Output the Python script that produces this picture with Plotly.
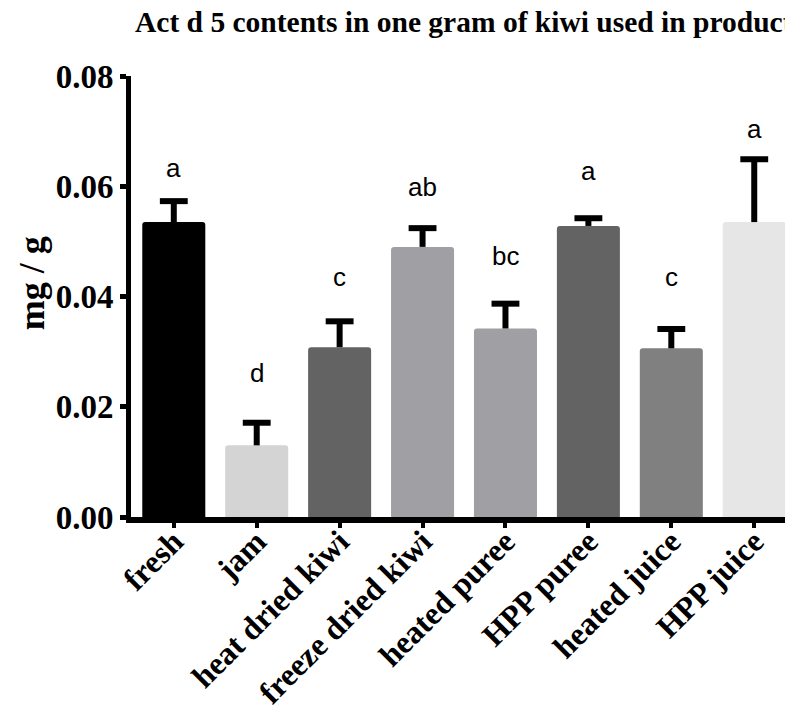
import plotly.graph_objects as go

# Act d 5 content per gram of kiwi, by product type
products = ["fresh", "jam", "heat dried kiwi", "freeze dried kiwi",
            "heated puree", "HPP puree", "heated juice", "HPP juice"]
mean_mg_per_g = [0.0535, 0.0130, 0.0308, 0.0490, 0.0342, 0.0528, 0.0306, 0.0535]
sd_mg_per_g = [0.0038, 0.0041, 0.0047, 0.0034, 0.0045, 0.0014, 0.0035, 0.0114]
group_letters = ["a", "d", "c", "ab", "bc", "a", "c", "a"]
letter_heights = [0.0634, 0.0261, 0.0436, 0.0598, 0.0474, 0.0627, 0.0436, 0.0703]
y_ticks = [0.00, 0.02, 0.04, 0.06, 0.08]

bar_colors = ["#000000", "#d4d4d4", "#636363", "#a0a0a4",
              "#a0a0a4", "#636363", "#808080", "#e6e6e6"]

serif = "Liberation Serif, Times New Roman, serif"
sans = "Liberation Sans, Arial, sans-serif"

positions = list(range(len(products)))
cap_half = 0.168  # half-width of the error-bar cap, in category units

fig = go.Figure()
fig.add_trace(go.Bar(
    x=positions,
    y=mean_mg_per_g,
    width=0.76,
    marker=dict(color=bar_colors, line=dict(width=0), cornerradius=3),
    showlegend=False,
    hoverinfo="skip",
))

# upper-only "T" error bars (mean -> mean + SD, capped)
ex, ey = [], []
for p, m, s in zip(positions, mean_mg_per_g, sd_mg_per_g):
    top = m + s
    ex += [p, p, None, p - cap_half, p + cap_half, None]
    ey += [m, top, None, top, top, None]
fig.add_trace(go.Scatter(
    x=ex, y=ey, mode="lines",
    line=dict(color="#000000", width=6),
    showlegend=False, hoverinfo="skip", connectgaps=False,
))

for p, letter, h in zip(positions, group_letters, letter_heights):
    fig.add_annotation(x=p, y=h, text=letter, showarrow=False,
                       xanchor="center", yanchor="middle",
                       font=dict(family=sans, size=26, color="#000000"))

fig.add_annotation(xref="paper", yref="paper", x=0.003, y=1.122,
                   text="Act d 5 contents in one gram of kiwi used in products",
                   showarrow=False, xanchor="left", yanchor="middle",
                   font=dict(family=serif, size=29.5, color="#000000", weight="bold"))

fig.add_annotation(xref="paper", yref="paper", x=-0.152, y=0.529,
                   text="mg / g", textangle=-90, showarrow=False,
                   xanchor="center", yanchor="middle",
                   font=dict(family=serif, size=36, color="#000000", weight="bold"))

fig.update_layout(
    width=785, height=720,
    margin=dict(l=131, r=0, t=76, b=202.5, autoexpand=False),
    paper_bgcolor="#ffffff", plot_bgcolor="#ffffff",
)
fig.update_xaxes(
    range=[-0.516, 7.371], tickvals=positions, ticktext=products,
    showline=True, linecolor="#000000", linewidth=6,
    ticks="outside", ticklen=5, tickwidth=4, tickcolor="#000000",
    tickangle=-45, ticklabelstandoff=-18, automargin=False,
    showgrid=False, zeroline=False,
    tickfont=dict(family=serif, size=32, color="#000000", weight="bold"),
)
fig.update_yaxes(
    range=[0, 0.08], tickvals=y_ticks, ticktext=[f"{v:.2f}" for v in y_ticks],
    showline=True, linecolor="#000000", linewidth=5,
    ticks="outside", ticklen=6, tickwidth=5, tickcolor="#000000",
    automargin=False, showgrid=False, zeroline=False,
    tickfont=dict(family=serif, size=33, color="#000000", weight="bold"),
)

fig.write_html("out.html")
